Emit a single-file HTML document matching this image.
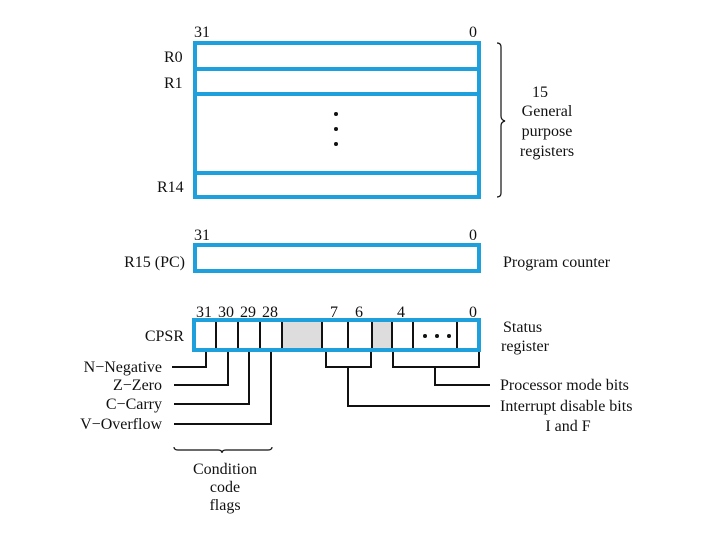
<!DOCTYPE html>
<html><head><meta charset="utf-8"><style>
html,body{margin:0;padding:0;background:#fff;}
svg{display:block;}
text{font-family:"Liberation Serif",serif;font-size:16px;fill:#111;}
</style></head><body>
<svg width="720" height="540" viewBox="0 0 720 540" xmlns="http://www.w3.org/2000/svg">
<g fill="none" stroke="#1ea0dc" stroke-width="4">
<rect x="195" y="43" width="284" height="154"/>
<line x1="195" y1="69" x2="479" y2="69"/>
<line x1="195" y1="94" x2="479" y2="94"/>
<line x1="195" y1="173" x2="479" y2="173"/>
<rect x="195" y="245" width="284" height="26"/>
<rect x="194" y="320" width="285" height="30"/>
</g>
<rect x="283" y="322" width="39" height="26" fill="#ddd"/>
<rect x="372" y="322" width="20" height="26" fill="#ddd"/>
<g stroke="#111" stroke-width="2" fill="none">
<line x1="216" y1="322" x2="216" y2="348"/>
<line x1="238" y1="322" x2="238" y2="348"/>
<line x1="260" y1="322" x2="260" y2="348"/>
<line x1="282" y1="322" x2="282" y2="348"/>
<line x1="322" y1="322" x2="322" y2="348"/>
<line x1="348" y1="322" x2="348" y2="348"/>
<line x1="372" y1="322" x2="372" y2="348"/>
<line x1="392" y1="322" x2="392" y2="348"/>
<line x1="413" y1="322" x2="413" y2="348"/>
<line x1="457" y1="322" x2="457" y2="348"/>
<polyline points="206,352 206,367 172,367"/>
<polyline points="228,352 228,385 174,385"/>
<polyline points="249,352 249,404 174,404"/>
<polyline points="271,352 271,424 174,424"/>
<polyline points="326,352 326,367 371,367 371,352"/>
<polyline points="348,367 348,406 490,406"/>
<polyline points="393,352 393,367 479,367 479,352"/>
<polyline points="435,367 435,385 490,385"/>
</g>
<g stroke="#111" stroke-width="1.2" fill="none">
<path d="M497,43 q4,0 4,4 V116 q0,4 4,5 q-4,1 -4,5 V193 q0,4 -4,4"/>
<path d="M174,447 q0,3 4,3 H218 q4,0 4,3 q0,-3 4,-3 H268 q4,0 4,-3"/>
</g>
<g fill="#111">
<circle cx="336" cy="114" r="2"/><circle cx="336" cy="129" r="2"/><circle cx="336" cy="144" r="2"/>
<circle cx="425" cy="336" r="2"/><circle cx="437" cy="336" r="2"/><circle cx="449" cy="336" r="2"/>
</g>
<text x="194" y="37">31</text><text x="469" y="37">0</text>
<text x="164" y="62">R0</text><text x="164" y="88">R1</text><text x="157" y="192">R14</text>
<text x="540" y="97" text-anchor="middle">15</text>
<text x="547" y="116" text-anchor="middle">General</text>
<text x="547" y="136" text-anchor="middle">purpose</text>
<text x="547" y="156" text-anchor="middle">registers</text>
<text x="194" y="240">31</text><text x="469" y="240">0</text>
<text x="185" y="267" text-anchor="end">R15 (PC)</text>
<text x="503" y="267">Program counter</text>
<text x="196" y="317">31</text><text x="218" y="317">30</text><text x="240" y="317">29</text><text x="262" y="317">28</text>
<text x="330" y="317">7</text><text x="355" y="317">6</text><text x="397" y="317">4</text><text x="469" y="317">0</text>
<text x="184" y="341" text-anchor="end">CPSR</text>
<text x="503" y="332">Status</text><text x="501" y="351">register</text>
<text x="162" y="372" text-anchor="end">N−Negative</text>
<text x="162" y="390" text-anchor="end">Z−Zero</text>
<text x="162" y="409" text-anchor="end">C−Carry</text>
<text x="162" y="429" text-anchor="end">V−Overflow</text>
<text x="500" y="390">Processor mode bits</text>
<text x="500" y="411">Interrupt disable bits</text>
<text x="568" y="431" text-anchor="middle">I and F</text>
<text x="225" y="474" text-anchor="middle">Condition</text>
<text x="225" y="492" text-anchor="middle">code</text>
<text x="225" y="510" text-anchor="middle">flags</text>
</svg>
</body></html>
